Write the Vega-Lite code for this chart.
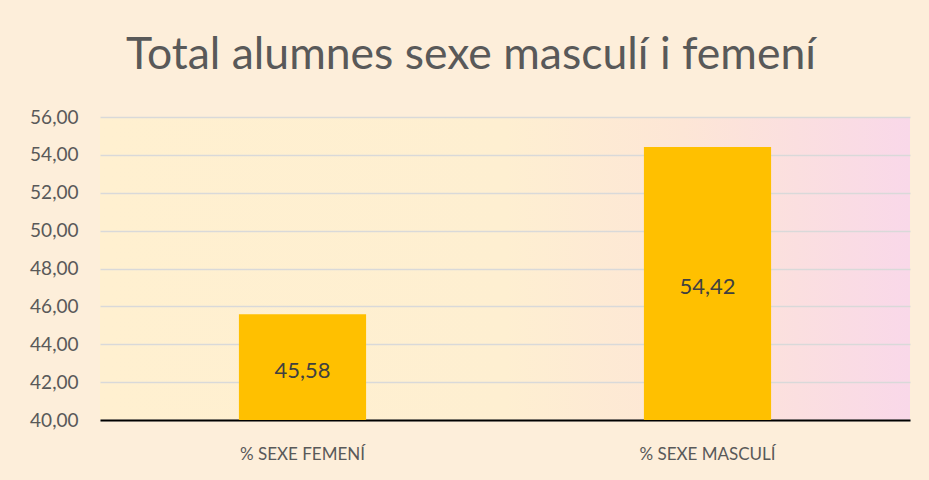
{
  "$schema": "https://vega.github.io/schema/vega-lite/v6.json",
  "width": 810,
  "height": 303,
  "autosize": {"type": "none"},
  "padding": {"left": 100, "top": 117, "right": 19, "bottom": 60},
  "background": "#FDEEDA",
  "config": {
    "locale": {"number": {"decimal": ",", "thousands": ".", "grouping": [3], "currency": ["", " €"]}},
    "view": {
      "stroke": null,
      "fill": {
        "gradient": "linear", "x1": 0, "y1": 0, "x2": 1, "y2": 0,
        "stops": [
          {"offset": 0, "color": "#FFF0D0"},
          {"offset": 0.5, "color": "#FEEFD1"},
          {"offset": 0.72, "color": "#FDE6D6"},
          {"offset": 1, "color": "#F9D8E9"}
        ]
      }
    },
    "axisY": {
      "values": [40, 42, 44, 46, 48, 50, 52, 54, 56],
      "format": ".2f",
      "labelFontSize": 19,
      "labelColor": "#595959",
      "labelPadding": 22,
      "labelOverlap": false,
      "ticks": false,
      "domain": false,
      "gridColor": "#D9D9D9",
      "gridWidth": 1.5,
      "title": null
    },
    "font": "Lato"
  },
  "title": {
    "text": "Total alumnes sexe masculí i femení",
    "fontSize": 44.5,
    "font": "Lato",
    "fontWeight": "normal",
    "color": "#595959",
    "anchor": "middle",
    "dx": -34,
    "offset": 30
  },
  "data": {
    "values": [
      {"categoria": "%  SEXE FEMENÍ", "valor": 45.58},
      {"categoria": "%  SEXE MASCULÍ", "valor": 54.42}
    ]
  },
  "encoding": {
    "x": {
      "field": "categoria",
      "type": "nominal",
      "sort": null,
      "scale": {"paddingInner": 0.686, "paddingOuter": 0.343},
      "axis": {
        "title": null,
        "labelAngle": 0,
        "labelFontSize": 17,
        "labelColor": "#595959",
        "labelPadding": 26,
        "ticks": false,
        "domainColor": "#000000",
        "domainWidth": 2,
        "labelFont": "Lato"
      }
    }
  },
  "layer": [
    {
      "mark": {"type": "bar", "color": "#FFC000"},
      "encoding": {
        "y": {
          "field": "valor",
          "type": "quantitative",
          "scale": {"domain": [40, 56], "zero": false, "clamp": true},
          "axis": {"values": [40, 42, 44, 46, 48, 50, 52, 54, 56], "tickCount": 9, "labelOverlap": false}
        }
      }
    },
    {
      "transform": [{"calculate": "(datum.valor + 40) / 2", "as": "mitja"}],
      "mark": {"type": "text", "fontSize": 22, "color": "#404040", "baseline": "middle", "dy": 4},
      "encoding": {
        "y": {"field": "mitja", "type": "quantitative", "axis": {"values": [40, 42, 44, 46, 48, 50, 52, 54, 56], "tickCount": 9, "labelOverlap": false}},
        "text": {"field": "valor", "type": "quantitative", "format": ".2f"}
      }
    }
  ]
}
